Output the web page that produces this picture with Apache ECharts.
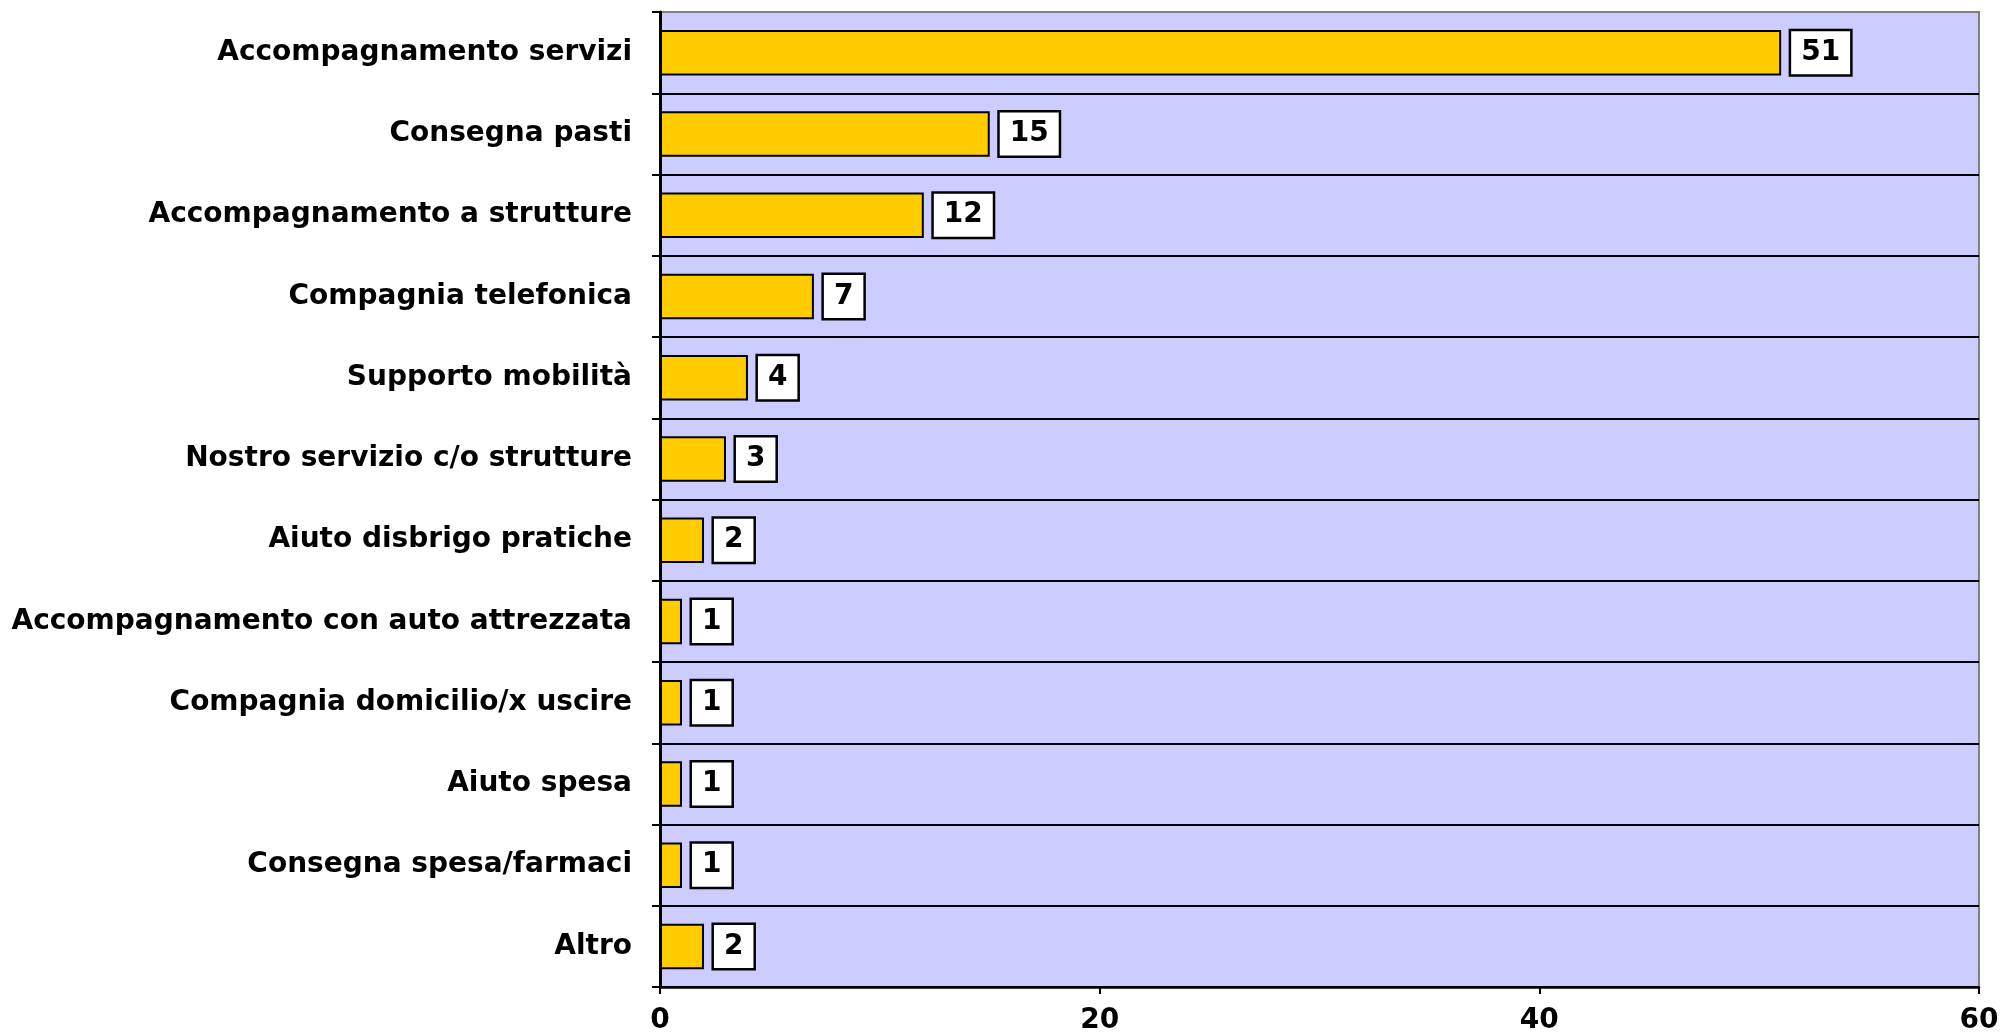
<!DOCTYPE html>
<html>
<head>
<meta charset="utf-8">
<script src="https://cdn.jsdelivr.net/npm/echarts@6/dist/echarts.min.js"></script>
<style>
  html, body { margin: 0; padding: 0; background: #ffffff; }
  #chart { width: 2008px; height: 1035px; }
</style>
</head>
<body>
<div id="chart"></div>
<script>
// Richieste di servizio per tipologia
const categories = [
  'Accompagnamento servizi',
  'Consegna pasti',
  'Accompagnamento a strutture',
  'Compagnia telefonica',
  'Supporto mobilità',
  'Nostro servizio c/o strutture',
  'Aiuto disbrigo pratiche',
  'Accompagnamento con auto attrezzata',
  'Compagnia domicilio/x uscire',
  'Aiuto spesa',
  'Consegna spesa/farmaci',
  'Altro'
];
const values = [51, 15, 12, 7, 4, 3, 2, 1, 1, 1, 1, 2];
const xMin = 0;
const xMax = 60;
const xStep = 20;

const FONT = '"DejaVu Sans", "Liberation Sans", Arial, sans-serif';

const chart = echarts.init(document.getElementById('chart'), null, { renderer: 'canvas' });

chart.setOption({
  animation: false,
  backgroundColor: '#ffffff',
  grid: {
    left: 660,
    right: 29,
    top: 12,
    bottom: 46,
    show: true,
    backgroundColor: '#CCCCFF',
    borderColor: '#808080',
    borderWidth: 2
  },
  xAxis: {
    type: 'value',
    min: xMin,
    max: xMax,
    interval: xStep,
    axisLine: { show: true, onZero: false, lineStyle: { color: '#000000', width: 2.5 } },
    axisTick: { show: true, length: 7, lineStyle: { color: '#000000', width: 2 } },
    splitLine: { show: false },
    axisLabel: {
      margin: 20,
      color: '#000000',
      fontFamily: FONT,
      fontWeight: 'bold',
      fontSize: 28
    }
  },
  yAxis: {
    type: 'category',
    data: categories,
    inverse: true,
    axisLine: { show: true, lineStyle: { color: '#000000', width: 3 } },
    axisTick: { show: true, length: 8, lineStyle: { color: '#000000', width: 2 } },
    // dark separators between rows; the top edge keeps the grey frame
    splitLine: {
      show: true,
      interval: function (idx) { return idx !== 0; },
      lineStyle: { color: '#000000', width: 2 }
    },
    axisLabel: {
      margin: 28,
      color: '#000000',
      fontFamily: FONT,
      fontWeight: 'bold',
      fontSize: 28
    }
  },
  series: [{
    type: 'bar',
    data: values,
    barWidth: '56%',
    itemStyle: {
      color: '#FFCC00',
      borderColor: '#000000',
      borderWidth: 2
    },
    label: {
      show: true,
      position: 'right',
      distance: 10,
      color: '#000000',
      fontFamily: FONT,
      fontWeight: 'bold',
      fontSize: 28,
      lineHeight: 28,
      backgroundColor: '#ffffff',
      borderColor: '#000000',
      borderWidth: 2.5,
      padding: [8, 10, 7, 10]
    }
  }]
});
</script>
</body>
</html>
